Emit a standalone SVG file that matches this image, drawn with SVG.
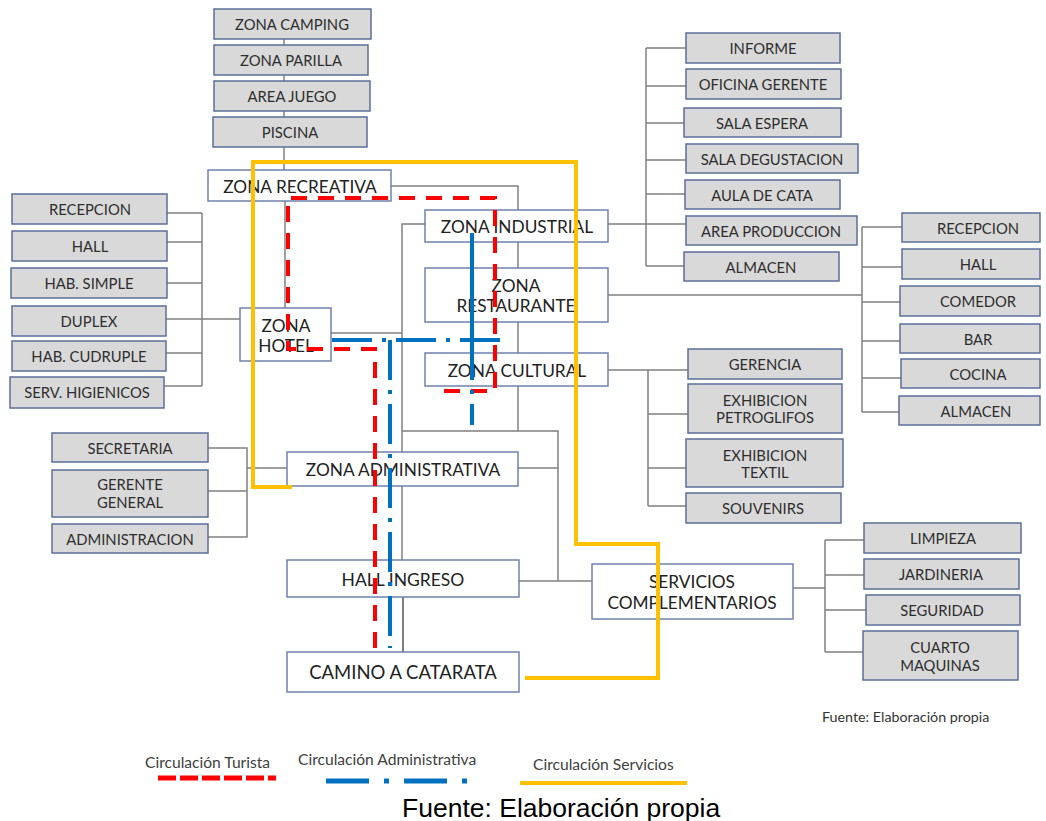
<svg xmlns="http://www.w3.org/2000/svg" width="1046" height="821" viewBox="0 0 1046 821">
<style>
.g rect{fill:#D9D9D9;stroke:#5B6F9B;stroke-width:1.5}
.w rect{fill:#FFFFFF;stroke:#6F82AD;stroke-width:1.5}
.g text{font-family:Lato,"Open Sans","Liberation Sans",sans-serif;font-size:14.8px;fill:#2E2E2E;text-anchor:middle;dominant-baseline:central}
.w text{font-family:Lato,"Open Sans","Liberation Sans",sans-serif;font-size:17.3px;fill:#222;text-anchor:middle;dominant-baseline:central}
.c path{fill:none;stroke:#808080;stroke-width:1.5}
.lg{font-family:Lato,"Open Sans","Liberation Sans",sans-serif;font-size:15.6px;fill:#404040}
</style>
<rect width="1046" height="821" fill="#FFFFFF"/>
<g id="connectors" class="c">
<path d="M284,39 V170"/>
<path d="M285,201 V308"/>
<path d="M167,213 H202 M167,242 H202 M167,283 H202 M166,319 H240 M166,353 H202 M164,386 H202 M202,213 V386"/>
<path d="M331,333 H402"/>
<path d="M391,186 H518 V431"/>
<path d="M425,224 H402 V560"/>
<path d="M402,431 H558 V581"/>
<path d="M518,468 H558"/>
<path d="M519,581 H592"/>
<path d="M403,597 V652" style="stroke:#555"/>
<path d="M208,448 H247 V537 H208 M208,491 H247 M247,468 H287"/>
<path d="M608,224 H686 M646,48 V266 M646,48 H686 M646,86 H686 M646,123 H684 M646,160 H686 M646,194 H685 M646,266 H684"/>
<path d="M608,295 H862 M862,227 V412 M862,227 H902 M862,267 H902 M862,302 H900 M862,341 H900 M862,378 H901 M862,412 H899"/>
<path d="M608,370 H688 M648,370 V506 M648,414 H688 M648,468 H686 M648,506 H686"/>
<path d="M793,588 H825 M825,540 V652 M825,540 H864 M825,575 H864 M825,610 H866 M825,652 H863"/>
</g>
<g id="zona-camping" class="g"><rect x="214" y="9" width="157" height="30"/><text x="292" y="24">ZONA CAMPING</text></g>
<g id="zona-parilla" class="g"><rect x="214" y="45" width="154" height="30"/><text x="291" y="60">ZONA PARILLA</text></g>
<g id="area-juego" class="g"><rect x="214" y="81" width="156" height="30"/><text x="292" y="96">AREA JUEGO</text></g>
<g id="piscina" class="g"><rect x="213" y="117" width="154" height="30"/><text x="290" y="132">PISCINA</text></g>
<g id="zona-recreativa" class="w"><rect x="208" y="170" width="183" height="31"/><text x="300" y="186">ZONA RECREATIVA</text></g>
<g id="h-recepcion" class="g"><rect x="12" y="194" width="155" height="30"/><text x="90" y="209">RECEPCION</text></g>
<g id="h-hall" class="g"><rect x="12" y="231" width="155" height="30"/><text x="90" y="246">HALL</text></g>
<g id="h-simple" class="g"><rect x="11" y="268" width="156" height="30"/><text x="89" y="283">HAB. SIMPLE</text></g>
<g id="h-duplex" class="g"><rect x="12" y="306" width="154" height="30"/><text x="89" y="321">DUPLEX</text></g>
<g id="h-cudruple" class="g"><rect x="12" y="341" width="154" height="30"/><text x="89" y="356">HAB. CUDRUPLE</text></g>
<g id="h-serv" class="g"><rect x="10" y="377" width="154" height="31"/><text x="87" y="392">SERV. HIGIENICOS</text></g>
<g id="zona-hotel" class="w"><rect x="240" y="308" width="91" height="53"/><text x="286" y="325">ZONA</text><text x="286" y="345">HOTEL</text></g>
<g id="zona-industrial" class="w"><rect x="425" y="210" width="183" height="32"/><text x="517" y="226">ZONA INDUSTRIAL</text></g>
<g id="zona-restaurante" class="w"><rect x="425" y="268" width="183" height="54"/><text x="516" y="285">ZONA</text><text x="516" y="305">RESTAURANTE</text></g>
<g id="zona-cultural" class="w"><rect x="425" y="353" width="183" height="33"/><text x="517" y="370">ZONA CULTURAL</text></g>
<g id="zona-administrativa" class="w"><rect x="287" y="452" width="231" height="34"/><text x="403" y="469">ZONA ADMINISTRATIVA</text></g>
<g id="hall-ingreso" class="w"><rect x="287" y="560" width="232" height="37"/><text x="403" y="579" style="font-size:17.5px">HALL INGRESO</text></g>
<g id="camino-catarata" class="w"><rect x="287" y="652" width="232" height="40"/><text x="403" y="672" style="font-size:18.5px">CAMINO A CATARATA</text></g>
<g id="servicios" class="w"><rect x="592" y="564" width="201" height="55"/><text x="692" y="581">SERVICIOS</text><text x="692" y="602">COMPLEMENTARIOS</text></g>
<g id="secretaria" class="g"><rect x="52" y="433" width="156" height="29"/><text x="130" y="448">SECRETARIA</text></g>
<g id="gerente-general" class="g"><rect x="52" y="470" width="156" height="47"/><text x="130" y="484">GERENTE</text><text x="130" y="502">GENERAL</text></g>
<g id="administracion" class="g"><rect x="52" y="524" width="156" height="29"/><text x="130" y="539">ADMINISTRACION</text></g>
<g id="informe" class="g"><rect x="686" y="33" width="154" height="30"/><text x="763" y="48">INFORME</text></g>
<g id="oficina-gerente" class="g"><rect x="686" y="69" width="155" height="30"/><text x="763" y="84">OFICINA GERENTE</text></g>
<g id="sala-espera" class="g"><rect x="684" y="108" width="157" height="29"/><text x="762" y="123">SALA ESPERA</text></g>
<g id="sala-degustacion" class="g"><rect x="686" y="144" width="172" height="29"/><text x="772" y="159">SALA DEGUSTACION</text></g>
<g id="aula-cata" class="g"><rect x="685" y="180" width="155" height="29"/><text x="762" y="195">AULA DE CATA</text></g>
<g id="area-produccion" class="g"><rect x="686" y="216" width="171" height="29"/><text x="771" y="231">AREA PRODUCCION</text></g>
<g id="i-almacen" class="g"><rect x="684" y="252" width="155" height="29"/><text x="761" y="267">ALMACEN</text></g>
<g id="r-recepcion" class="g"><rect x="902" y="213" width="138" height="29"/><text x="978" y="228">RECEPCION</text></g>
<g id="r-hall" class="g"><rect x="902" y="249" width="138" height="30"/><text x="978" y="264">HALL</text></g>
<g id="r-comedor" class="g"><rect x="900" y="286" width="140" height="30"/><text x="978" y="301">COMEDOR</text></g>
<g id="r-bar" class="g"><rect x="900" y="324" width="140" height="29"/><text x="978" y="339">BAR</text></g>
<g id="r-cocina" class="g"><rect x="901" y="359" width="139" height="29"/><text x="978" y="374">COCINA</text></g>
<g id="r-almacen" class="g"><rect x="899" y="396" width="141" height="29"/><text x="976" y="411">ALMACEN</text></g>
<g id="gerencia" class="g"><rect x="688" y="349" width="154" height="30"/><text x="765" y="364">GERENCIA</text></g>
<g id="exh-petroglifos" class="g"><rect x="688" y="384" width="154" height="49"/><text x="765" y="400">EXHIBICION</text><text x="765" y="417">PETROGLIFOS</text></g>
<g id="exh-textil" class="g"><rect x="686" y="439" width="157" height="48"/><text x="765" y="455">EXHIBICION</text><text x="765" y="472">TEXTIL</text></g>
<g id="souvenirs" class="g"><rect x="686" y="493" width="155" height="30"/><text x="763" y="508">SOUVENIRS</text></g>
<g id="limpieza" class="g"><rect x="864" y="523" width="157" height="30"/><text x="943" y="538">LIMPIEZA</text></g>
<g id="jardineria" class="g"><rect x="864" y="559" width="155" height="30"/><text x="941" y="574">JARDINERIA</text></g>
<g id="seguridad" class="g"><rect x="866" y="595" width="154" height="30"/><text x="942" y="610">SEGURIDAD</text></g>
<g id="cuarto-maquinas" class="g"><rect x="863" y="631" width="155" height="49"/><text x="940" y="647">CUARTO</text><text x="940" y="665">MAQUINAS</text></g>
<g id="circulation">
<path d="M292,487 H253 V162 H576 V544 H658 V678 H525" fill="none" stroke="#FFC000" stroke-width="4"/>
<path d="M375,648 V349 H288 V198 H495 V391 H440" fill="none" stroke="#FF0000" stroke-width="4" stroke-dasharray="16 11"/>
<path d="M472,233 V340" fill="none" stroke="#0070C0" stroke-width="4"/>
<path d="M500,340 H331 M390,340 V648 M472,340 V425" fill="none" stroke="#0070C0" stroke-width="4" stroke-dasharray="40 10 4 10"/>
</g>
<g id="legend">
<text class="lg" x="145" y="768">Circulación Turista</text>
<path d="M158,778 H276" stroke="#FF0000" stroke-width="5" stroke-dasharray="18 4"/>
<text class="lg" x="298" y="765">Circulación Administrativa</text>
<path d="M326,781 H470" stroke="#0070C0" stroke-width="5" stroke-dasharray="43 15 5 15"/>
<text class="lg" x="533" y="770">Circulación Servicios</text>
<path d="M520,783 H687" stroke="#FFC000" stroke-width="4"/>
<text x="822" y="722" style="font-family:Lato,'Open Sans','Liberation Sans',sans-serif;font-size:14.3px;fill:#333">Fuente: Elaboración propia</text>
<text x="402" y="817" style="font-family:'Liberation Sans',Arial,sans-serif;font-size:26.5px;fill:#000">Fuente: Elaboración propia</text>
</g>
</svg>
